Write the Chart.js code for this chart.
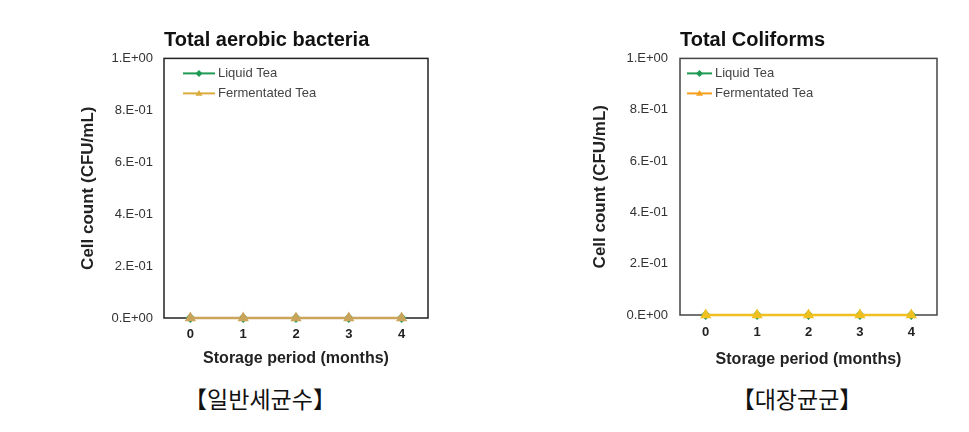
<!DOCTYPE html>
<html>
<head>
<meta charset="utf-8">
<script src="https://cdn.jsdelivr.net/npm/chart.js@4.4.1/dist/chart.umd.min.js"></script>
<style>
  body { margin: 0; background: #fff; width: 969px; height: 432px; position: relative; overflow: hidden; }
  canvas { position: absolute; }
  #aerobic { left: 70px; top: 20px; }
  #coliform { left: 582px; top: 20px; }
  .cap { position: absolute; top: 381px; font-family: "Noto Sans CJK KR", sans-serif; font-size: 23px; color: #111; transform: translateX(-50%); white-space: nowrap; }
</style>
</head>
<body>
<canvas id="aerobic" width="370" height="358"></canvas>
<canvas id="coliform" width="367" height="355"></canvas>
<div class="cap" style="left:260px">【일반세균수】</div>
<div class="cap" style="left:797px">【대장균군】</div>
<script>
// Data (all counts are zero)
const months = ["0", "1", "2", "3", "4"];
const seriesNames = ["Liquid Tea", "Fermentated Tea"];
const aerobicLiquid = [0, 0, 0, 0, 0];
const aerobicFerment = [0, 0, 0, 0, 0];
const coliformLiquid = [0, 0, 0, 0, 0];
const coliformFerment = [0, 0, 0, 0, 0];
const yTicks = [0, 0.2, 0.4, 0.6, 0.8, 1];
const yTickLabels = ["0.E+00", "2.E-01", "4.E-01", "6.E-01", "8.E-01", "1.E+00"];

const FONT = "'Liberation Sans', Arial, sans-serif";

function drawMarker(ctx, style, x, y, r) {
  ctx.beginPath();
  if (style === "triangle") {
    ctx.moveTo(x, y - r);
    ctx.lineTo(x + r, y + r * 0.7);
    ctx.lineTo(x - r, y + r * 0.7);
  } else {
    ctx.moveTo(x, y - r);
    ctx.lineTo(x + r, y);
    ctx.lineTo(x, y + r);
    ctx.lineTo(x - r, y);
  }
  ctx.closePath();
  ctx.fill();
}

// box round the plot, drawn under the lines
const frame = {
  id: "frame",
  beforeDatasetsDraw(chart, args, opts) {
    const { ctx, chartArea: a } = chart;
    ctx.save();
    ctx.strokeStyle = opts.color;
    ctx.lineWidth = opts.width;
    ctx.strokeRect(a.left, a.top, a.right - a.left, a.bottom - a.top);
    ctx.restore();
  }
};

// legend inside the plot: short line with a marker, then the name
const insideLegend = {
  id: "insideLegend",
  afterDraw(chart, args, opts) {
    const { ctx, chartArea: a } = chart;
    ctx.save();
    ctx.font = "13px " + FONT;
    ctx.textBaseline = "middle";
    chart.data.datasets.forEach((ds, i) => {
      const y = a.top + opts.top + i * 20;
      const x0 = a.left + opts.lineStart;
      const x1 = a.left + opts.lineEnd;
      ctx.strokeStyle = opts.colors[i];
      ctx.fillStyle = opts.colors[i];
      ctx.lineWidth = 2;
      ctx.beginPath();
      ctx.moveTo(x0, y);
      ctx.lineTo(x1, y);
      ctx.stroke();
      drawMarker(ctx, ds.pointStyle, (x0 + x1) / 2, y, 3.5);
      ctx.fillStyle = "#444";
      ctx.fillText(ds.label, x1 + 3, y);
    });
    ctx.restore();
  }
};

function makeChart(id, cfg) {
  return new Chart(document.getElementById(id), {
    type: "line",
    data: {
      labels: months,
      datasets: [
        {
          label: seriesNames[0],
          data: cfg.liquid,
          borderColor: cfg.liquidColor,
          backgroundColor: cfg.liquidColor,
          pointStyle: "rectRot",
          pointRadius: 3.5,
          borderWidth: 2,
          clip: false,
          order: 1
        },
        {
          label: seriesNames[1],
          data: cfg.ferment,
          borderColor: cfg.fermentColor,
          backgroundColor: cfg.fermentColor,
          pointStyle: "triangle",
          pointRadius: 4,
          borderWidth: 2.5,
          clip: false,
          order: 0
        }
      ]
    },
    options: {
      responsive: false,
      animation: false,
      layout: { padding: { right: cfg.padRight } },
      plugins: {
        frame: { color: cfg.frameColor, width: 1.5 },
        insideLegend: { colors: cfg.legendColors, lineStart: cfg.legendStart, lineEnd: cfg.legendEnd, top: 15 },
        tooltip: { enabled: false },
        legend: { display: false },
        title: {
          display: true,
          text: cfg.title,
          align: "start",
          fullSize: false,
          color: "#111",
          font: { family: FONT, size: 20, weight: "bold" },
          padding: { top: 8, bottom: 6.4 }
        }
      },
      scales: {
        x: {
          type: "category",
          offset: true,
          grid: { display: false, drawTicks: false },
          border: { display: false },
          ticks: { color: "#222", padding: cfg.xTickPad, font: { family: FONT, size: 13, weight: "bold" } },
          title: {
            display: true,
            text: "Storage period (months)",
            color: "#222",
            font: { family: FONT, size: 16, weight: "bold" },
            padding: { top: 0, bottom: cfg.xTitlePad }
          },
          afterFit: (s) => { s.height = 60; }
        },
        y: {
          min: 0,
          max: 1,
          grid: { display: false, drawTicks: false },
          border: { display: false },
          afterBuildTicks: (s) => { s.ticks = yTicks.map((v) => ({ value: v })); },
          ticks: {
            color: "#333",
            padding: cfg.yTickPad,
            font: { family: FONT, size: 13 },
            callback: (v, i) => yTickLabels[i]
          },
          title: {
            display: true,
            text: "Cell count (CFU/mL)",
            color: "#222",
            font: { family: FONT, size: 17, weight: "bold" },
            padding: { top: 7.8, bottom: 0 }
          },
          afterFit: (s) => { s.width = cfg.yWidth; }
        }
      }
    },
    plugins: [frame, insideLegend]
  });
}

makeChart("aerobic", {
  title: "Total aerobic bacteria",
  liquid: aerobicLiquid,
  ferment: aerobicFerment,
  liquidColor: "#1f9a55",
  fermentColor: "#c9a45a",
  legendColors: ["#1f9a55", "#d9ac3c"],
  frameColor: "#222",
  legendStart: 19,
  legendEnd: 51,
  yWidth: 94,
  padRight: 12,
  yTickPad: 11,
  xTickPad: 9,
  xTitlePad: 10,
  iconWidth: 40
});

makeChart("coliform", {
  title: "Total Coliforms",
  liquid: coliformLiquid,
  ferment: coliformFerment,
  liquidColor: "#1f9a55",
  fermentColor: "#f0c020",
  legendColors: ["#1f9a55", "#f5a020"],
  frameColor: "#444",
  legendStart: 7,
  legendEnd: 32,
  yWidth: 98,
  padRight: 12,
  yTickPad: 12,
  xTickPad: 10,
  xTitlePad: 6
});
</script>
</body>
</html>
